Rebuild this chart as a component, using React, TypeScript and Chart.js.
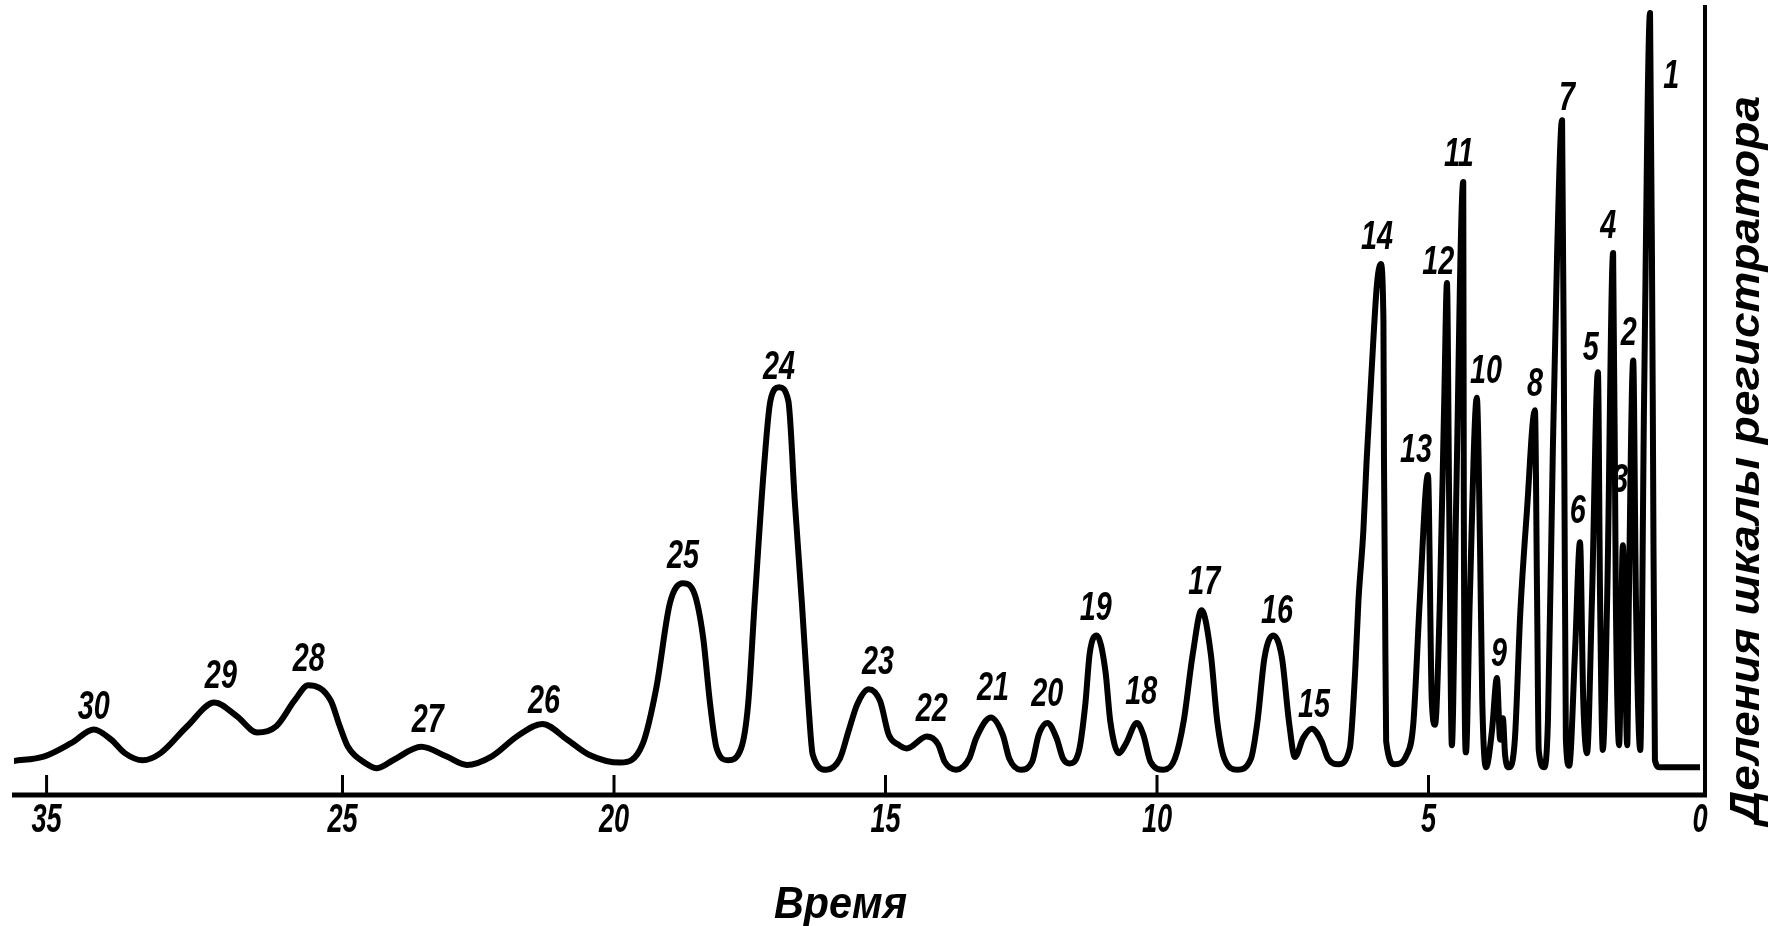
import { useEffect, useRef } from 'react';
import { Chart, registerables } from 'chart.js';

Chart.register(...registerables);

// Chromatogram trace: time (recorder scale, reversed axis) and signal (recorder divisions)
const traceTime = [
  31.06, 30.49, 29.99, 29.58, 29.26, 29.01, 28.68, 28.35, 27.86, 27.36, 26.95, 26.57, 26.22, 25.88,
  25.63, 25.22, 25.05, 24.9, 24.57, 24.36, 24.07, 23.55, 23.09, 22.71, 22.25, 21.77, 21.32, 20.86,
  20.46, 19.88, 19.47, 19.22, 18.97, 18.73, 18.52, 18.36, 18.23, 18.11, 17.9, 17.66, 17.53, 17.41,
  17.24, 17.12, 16.96, 16.79, 16.67, 16.54, 16.42, 16.34, 16.09, 15.84, 15.68, 15.52, 15.31, 15.1,
  14.94, 14.77, 14.61, 14.24, 14.03, 13.91, 13.7, 13.46, 13.33, 13.06, 12.84, 12.72, 12.51, 12.3,
  12.18, 12.02, 11.85, 11.73, 11.61, 11.44, 11.32, 11.24, 11.11, 10.95, 10.86, 10.7, 10.58, 10.37,
  10.25, 10.12, 9.88, 9.67, 9.51, 9.34, 9.18, 9.01, 8.89, 8.76, 8.52, 8.27, 8.15, 8.02, 7.86, 7.7,
  7.57, 7.46, 7.31, 7.15, 6.97, 6.85, 6.66, 6.45, 6.35, 6.29, 6.2, 6.14, 6.05, 5.95, 5.88, 5.83,
  5.82, 5.8, 5.78, 5.62, 5.4, 5.28, 5.16, 5.01, 4.94, 4.88, 4.79, 4.71, 4.66, 4.62, 4.57, 4.49,
  4.36, 4.35, 4.31, 4.24, 4.11, 4.05, 4.01, 3.94, 3.83, 3.74, 3.68, 3.63, 3.59, 3.52, 3.41, 3.31,
  3.19, 3.04, 3.0, 2.97, 2.87, 2.8, 2.71, 2.63, 2.54, 2.5, 2.47, 2.41, 2.3, 2.21, 2.15, 2.08, 1.99,
  1.88, 1.84, 1.79, 1.71, 1.6, 1.55, 1.49, 1.42, 1.34, 1.31, 1.23, 1.18, 1.1, 1.03, 0.92, 0.87,
  0.83, 0.74, 0.0,
];
const traceSignal = [
  4.3, 4.9, 6.6, 8.3, 7.0, 5.3, 4.4, 5.3, 8.7, 11.7, 10.0, 7.9, 8.7, 12.0,
  13.9, 12.0, 8.7, 6.1, 4.0, 3.4, 4.4, 6.1, 4.9, 3.8, 4.9, 7.5, 9.0, 7.0,
  5.1, 4.1, 6.5, 13.6, 24.3, 26.8, 25.5, 20.0, 11.5, 5.9, 4.4, 5.9, 11.5, 24.3,
  41.3, 49.9, 51.6, 49.9, 37.1, 24.3, 11.5, 5.1, 3.2, 4.6, 8.1, 11.5, 13.4, 11.9,
  7.6, 6.4, 5.9, 7.4, 6.4, 4.2, 3.2, 4.6, 7.2, 9.8, 7.6, 4.6, 3.2, 4.2,
  7.6, 9.1, 7.2, 4.6, 4.0, 5.5, 11.5, 17.9, 20.2, 15.7, 9.3, 5.3, 6.4, 9.1,
  7.6, 4.2, 3.2, 4.6, 9.3, 17.9, 23.4, 17.9, 9.3, 4.6, 3.2, 4.6, 9.3, 17.4, 20.2, 17.4,
  9.3, 4.8, 7.2, 8.4, 6.8, 4.6, 3.9, 5.9, 15.7, 24.6, 33.4, 42.3, 53.4, 64.6, 67.2, 60.1,
  42.4, 24.6, 6.8, 3.9, 5.1, 9.0, 24.7, 40.5, 12.0, 8.9, 24.7, 50.0, 64.8, 37.3, 6.3, 37.3,
  77.6, 37.3, 5.4, 24.7, 50.3, 31.0, 12.0, 3.5, 8.2, 14.8, 7.0, 9.7, 5.1, 3.5, 7.0, 23.0,
  35.7, 48.7, 24.7, 5.7, 3.5, 9.5, 43.7, 69.0, 85.4, 43.7, 7.0, 3.7, 18.4, 32.0, 12.0, 5.3, 24.7,
  53.5, 24.7, 5.7, 24.7, 68.6, 24.7, 6.3, 31.6, 6.3, 24.7, 55.0, 24.7, 5.7, 50.0, 99.0, 50.0,
  4.4, 3.5, 3.5,
];

// Peak numbers and where their labels sit (time, recorder divisions)
const peakNumbers = [
  '1', '2', '3', '4', '5', '6', '7', '8', '9', '10', '11', '12', '13', '14', '15',
  '16', '17', '18', '19', '20', '21', '22', '23', '24', '25', '26', '27', '28', '29', '30',
];
const peakLabelTime = [
  0.53, 1.31, 1.47, 1.69, 2.01, 2.25, 2.45, 3.04, 3.7, 3.94, 4.44, 4.82, 5.23, 5.95, 7.11,
  7.79, 9.13, 10.29, 11.13, 12.02, 13.02, 14.15, 15.14, 16.96, 18.73, 21.29, 23.43, 25.62, 27.24, 29.58,
];
const peakLabelHeight = [
  90.9, 58.4, 39.7, 71.9, 56.5, 35.8, 88.1, 51.9, 17.7, 53.5, 81.0, 67.3, 43.5, 70.5, 11.3,
  23.2, 26.9, 12.9, 23.6, 12.7, 13.4, 10.8, 16.7, 54.0, 30.1, 11.8, 9.4, 17.1, 14.9, 11.0,
];

// Time axis ticks (the leftmost printed mark reads "35")
const xTickValues = [0, 5, 10, 15, 20, 25, 30.45];
const xTickLabels = ['0', '5', '10', '15', '20', '25', '35'];

const xAxisTitle = 'Время';
const yAxisTitle = 'Деления шкалы регистратора';

const LABEL_FONT = 'italic bold 40px "Liberation Sans", "DejaVu Sans", sans-serif';

function drawText(
  ctx: CanvasRenderingContext2D,
  text: string,
  x: number,
  y: number,
  font: string,
  sx: number,
  rot = 0,
  fitWidth = 0
) {
  ctx.save();
  ctx.font = font;
  let scaleX = sx;
  if (fitWidth > 0) {
    const w = ctx.measureText(text).width;
    if (w > 0) scaleX = fitWidth / w;
  }
  ctx.translate(x, y);
  ctx.rotate(rot);
  ctx.scale(scaleX, 1);
  ctx.fillStyle = '#000';
  ctx.textAlign = 'center';
  ctx.textBaseline = 'middle';
  ctx.fillText(text, 0, 0);
  ctx.restore();
}

const decorPlugin = {
  id: 'chromDecor',
  afterDatasetsDraw(chart: any) {
    const ctx: CanvasRenderingContext2D = chart.ctx;
    const xs = chart.scales.x;
    const ys = chart.scales.y;
    const area = chart.chartArea;
    const y0 = ys.getPixelForValue(0);
    const xRight = xs.getPixelForValue(0) + 5;

    ctx.save();
    ctx.strokeStyle = '#000';
    ctx.lineCap = 'butt';
    // time axis line
    ctx.lineWidth = 5;
    ctx.beginPath();
    ctx.moveTo(area.left - 2, y0);
    ctx.lineTo(xRight + 2, y0);
    ctx.stroke();
    // right vertical line
    ctx.lineWidth = 4;
    ctx.beginPath();
    ctx.moveTo(xRight, area.top);
    ctx.lineTo(xRight, y0 + 2);
    ctx.stroke();
    // tick marks pointing up
    ctx.lineWidth = 3;
    xTickValues.forEach((v) => {
      if (v === 0) return;
      const px = xs.getPixelForValue(v);
      ctx.beginPath();
      ctx.moveTo(px, y0);
      ctx.lineTo(px, y0 - 20);
      ctx.stroke();
    });
    ctx.restore();

    // tick labels
    xTickValues.forEach((v, i) => {
      drawText(ctx, xTickLabels[i], xs.getPixelForValue(v), y0 + 26, LABEL_FONT, 0.68);
    });

    // peak labels
    peakNumbers.forEach((n, i) => {
      drawText(
        ctx,
        n,
        xs.getPixelForValue(peakLabelTime[i]),
        ys.getPixelForValue(peakLabelHeight[i]),
        LABEL_FONT,
        0.72
      );
    });

    // axis titles
    drawText(
      ctx,
      xAxisTitle,
      (area.left + xRight) / 2 - 19,
      y0 + 111,
      'italic bold 44px "Liberation Sans", "DejaVu Sans", sans-serif',
      1,
      0,
      133
    );
    drawText(
      ctx,
      yAxisTitle,
      xRight + 42,
      (area.top + y0) / 2 + 60,
      'italic bold 42px "Liberation Sans", "DejaVu Sans", sans-serif',
      1,
      -Math.PI / 2,
      728
    );
  },
};

export default function App() {
  const canvasRef = useRef<HTMLCanvasElement | null>(null);

  useEffect(() => {
    if (!canvasRef.current) return;
    const points = traceTime.map((t, i) => ({ x: t, y: traceSignal[i] }));
    const chart = new Chart(canvasRef.current, {
      type: 'line',
      data: {
        datasets: [
          {
            data: points,
            borderColor: '#000',
            borderWidth: 6,
            pointRadius: 0,
            fill: false,
            cubicInterpolationMode: 'monotone',
            borderJoinStyle: 'round',
            borderCapStyle: 'round',
          },
        ],
      },
      options: {
        responsive: false,
        animation: false,
        events: [],
        layout: { padding: { left: 14, right: 76, top: 5, bottom: 131 } },
        plugins: {
          legend: { display: false },
          tooltip: { enabled: false },
        },
        scales: {
          x: { type: 'linear', display: false, reverse: true, min: 0, max: 31.05 },
          y: { type: 'linear', display: false, min: 0, max: 100 },
        },
      },
      plugins: [decorPlugin],
    });
    return () => chart.destroy();
  }, []);

  return (
    <div
      style={{
        position: 'fixed',
        left: 0,
        top: 0,
        width: 1776,
        height: 926,
        background: '#fff',
      }}
    >
      <canvas ref={canvasRef} width={1776} height={926} />
    </div>
  );
}
